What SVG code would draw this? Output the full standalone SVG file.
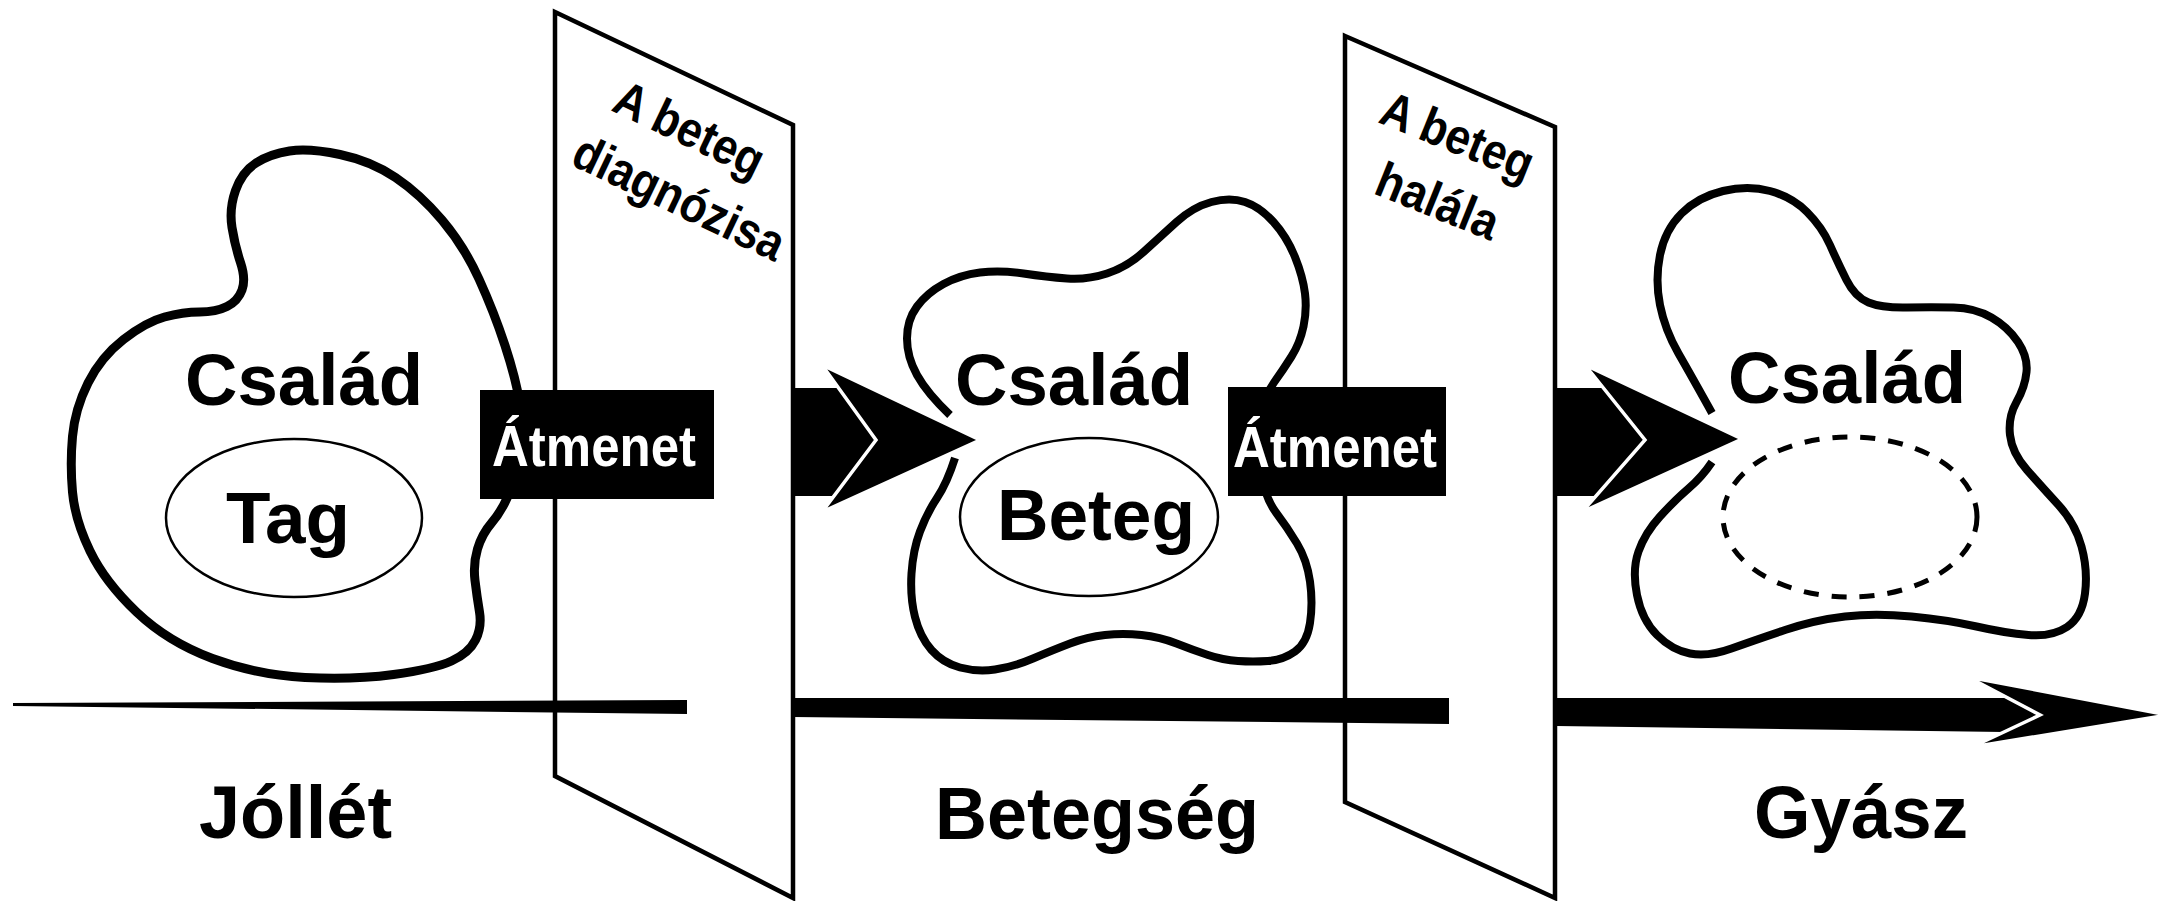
<svg xmlns="http://www.w3.org/2000/svg" width="2184" height="901" viewBox="0 0 2184 901">
<style>
.panel{fill:#fff;stroke:#000;stroke-width:4.5;stroke-linejoin:miter}
.blob{fill:none;stroke:#000;stroke-linecap:butt;stroke-linejoin:round}
.inner{fill:none;stroke:#000;stroke-width:2.5}
.dash{fill:none;stroke:#000;stroke-width:5;stroke-dasharray:15 13}
.bar{fill:#000}
.head{fill:#000;stroke:#fff;stroke-width:3.5;stroke-linejoin:miter}
.box{fill:#000}
text{font-family:"Liberation Sans",Arial,sans-serif;font-weight:bold}
.lbl{font-size:74px;fill:#000}
.tr{font-size:57px;fill:#fff}
.pt{font-size:50px;fill:#000}
.ph{font-size:73px;fill:#000}
</style>
<rect width="2184" height="901" fill="#fff"/>
<g id="panel-diagnosis">
<polygon class="panel" points="555,12 793,125 793,898 555,776"/>
<text class="pt" transform="translate(610,110) rotate(25.5)" textLength="160" lengthAdjust="spacingAndGlyphs">A beteg</text>
<text class="pt" transform="translate(569,164) rotate(25.5)" textLength="228" lengthAdjust="spacingAndGlyphs">diagnózisa</text>
</g>
<g id="panel-death">
<polygon class="panel" points="1345,36 1555,127 1555,898 1345,802"/>
<text class="pt" transform="translate(1377,122) rotate(22)" textLength="160" lengthAdjust="spacingAndGlyphs">A beteg</text>
<text class="pt" transform="translate(1372,193) rotate(22)" textLength="128" lengthAdjust="spacingAndGlyphs">halála</text>
</g>
<g id="connectors">
<polygon class="bar" points="13,703 687,700 687,714 13,706"/>
<polygon class="bar" points="793,698 1449,698 1449,724 793,717"/>
<polygon class="bar" points="1556,698 2008,698 2040,715 2004,732 1556,726"/>
<polygon class="head" points="1968,677 2168,715 1972,747 2040,715"/>
</g>
<g id="family-wellbeing">
<path class="blob" stroke-width="9" d="M 340,154.5 Q 371,161 395.5,177.5 Q 420,194 442,220 Q 464,246 479,279 Q 494,312 505,345.5 Q 516,379 520,404.5 Q 524,430 519.5,455 Q 515,480 508,496 Q 501,512 491.5,523 Q 482,534 477.5,549 Q 473,564 475,580.5 Q 477,597 479.5,612 Q 482,627 475.5,640 Q 469,653 451.5,661 Q 434,669 393.5,674.5 Q 353,680 305,677.5 Q 257,675 212.5,658.5 Q 168,642 136.5,612 Q 105,582 90,551 Q 75,520 72.5,492 Q 70,464 72.5,436.5 Q 75,409 88,383 Q 101,357 123.5,339.5 Q 146,322 164.5,317 Q 183,312 199.5,312 Q 216,312 227,306.5 Q 238,301 242,290 Q 246,279 240.5,262.5 Q 235,246 232,227.5 Q 229,209 235.5,190.5 Q 242,172 256,163 Q 270,154 289.5,151 Q 309,148 340,154.5 Z"/>
<ellipse class="inner" cx="294" cy="518" rx="128" ry="79"/>
<text class="ph" x="185" y="405" textLength="238" lengthAdjust="spacingAndGlyphs">Család</text>
<text class="ph" x="226" y="543" font-size="80" textLength="124" lengthAdjust="spacingAndGlyphs">Tag</text>
</g>
<g id="family-illness">
<path class="blob" stroke-width="8" d="M 950,415 Q 927,393 917,375 Q 907,357 907,338.5 Q 907,320 917,306.5 Q 927,293 943.5,284 Q 960,275 980,272.5 Q 1000,270 1023.5,273.5 Q 1047,277 1067,278.5 Q 1087,280 1107,273.5 Q 1127,267 1143.5,252 Q 1160,237 1176.5,222 Q 1193,207 1211.5,202 Q 1230,197 1245,202 Q 1260,207 1273.5,222 Q 1287,237 1295,257 Q 1303,277 1305,293.5 Q 1307,310 1303.5,326.5 Q 1300,343 1291.5,356.5 Q 1283,370 1274,382.5 Q 1265,395 1260,417.5 Q 1255,440 1260,469 Q 1265,498 1276,512.5 Q 1287,527 1297,543.5 Q 1307,560 1310,581.5 Q 1313,603 1310,623 Q 1307,643 1295,651.5 Q 1283,660 1268,661 Q 1253,662 1238,661 Q 1223,660 1208,655 Q 1193,650 1176.5,643.5 Q 1160,637 1141.5,635 Q 1123,633 1105,635 Q 1087,637 1070,643.5 Q 1053,650 1033,658.5 Q 1013,667 995,669.5 Q 977,672 960,667.5 Q 943,663 931.5,650 Q 920,637 915,617 Q 910,597 911.5,573.5 Q 913,550 920,531.5 Q 927,513 937,498 Q 947,483 955,458"/>
<ellipse class="inner" cx="1089" cy="517" rx="129" ry="79"/>
<text class="ph" x="955" y="405" textLength="238" lengthAdjust="spacingAndGlyphs">Család</text>
<text class="ph" x="997" y="540" textLength="198" lengthAdjust="spacingAndGlyphs">Beteg</text>
</g>
<g id="family-grief">
<path class="blob" stroke-width="8" d="M 1712,413 Q 1692,377 1678.5,353.5 Q 1665,330 1660,305 Q 1655,280 1660,255 Q 1665,230 1681.5,213.5 Q 1698,197 1723,191 Q 1748,185 1770,191 Q 1792,197 1807,212 Q 1822,227 1830,245 Q 1838,263 1846.5,280 Q 1855,297 1868.5,302.5 Q 1882,308 1907,307.5 Q 1932,307 1953.5,307.5 Q 1975,308 1991.5,317.5 Q 2008,327 2018,342 Q 2028,357 2026.5,372 Q 2025,387 2016.5,402 Q 2008,417 2010,435 Q 2012,453 2027,470 Q 2042,487 2058.5,505 Q 2075,523 2081.5,546.5 Q 2088,570 2085,593.5 Q 2082,617 2067,627 Q 2052,637 2028.5,635 Q 2005,633 1976.5,626.5 Q 1948,620 1911.5,616.5 Q 1875,613 1845,616.5 Q 1815,620 1785,630 Q 1755,640 1731.5,648.5 Q 1708,657 1690,653.5 Q 1672,650 1657,635 Q 1642,620 1637,595 Q 1632,570 1638.5,551.5 Q 1645,533 1660,516.5 Q 1675,500 1688.5,488.5 Q 1702,477 1712,462"/>
<ellipse class="dash" cx="1850" cy="517" rx="127" ry="80"/>
<text class="ph" x="1728" y="403" textLength="238" lengthAdjust="spacingAndGlyphs">Család</text>
</g>
<g id="arrows">
<polygon class="bar" points="793,388 838,388 876,440 835,496 793,496"/>
<polygon class="head" points="822,365 980,440 822,512 876,440"/>
<polygon class="bar" points="1555,388 1603,388 1645,440 1597,496 1555,496"/>
<polygon class="head" points="1585,365 1742,439 1582,512 1645,440"/>
</g>
<g id="transition-1">
<rect class="box" x="480" y="390" width="234" height="109"/>
<text class="tr" x="492" y="466" textLength="204" lengthAdjust="spacingAndGlyphs">Átmenet</text>
</g>
<g id="transition-2">
<rect class="box" x="1228" y="387" width="218" height="109"/>
<text class="tr" x="1233" y="467" textLength="204" lengthAdjust="spacingAndGlyphs">Átmenet</text>
</g>
<g id="phase-labels">
<text class="lbl" x="199" y="838" font-size="73" textLength="193" lengthAdjust="spacingAndGlyphs">Jóllét</text>
<text class="lbl" x="935" y="839" font-size="73" textLength="324" lengthAdjust="spacingAndGlyphs">Betegség</text>
<text class="lbl" x="1754" y="838" font-size="73" textLength="214" lengthAdjust="spacingAndGlyphs">Gyász</text>
</g>
</svg>
